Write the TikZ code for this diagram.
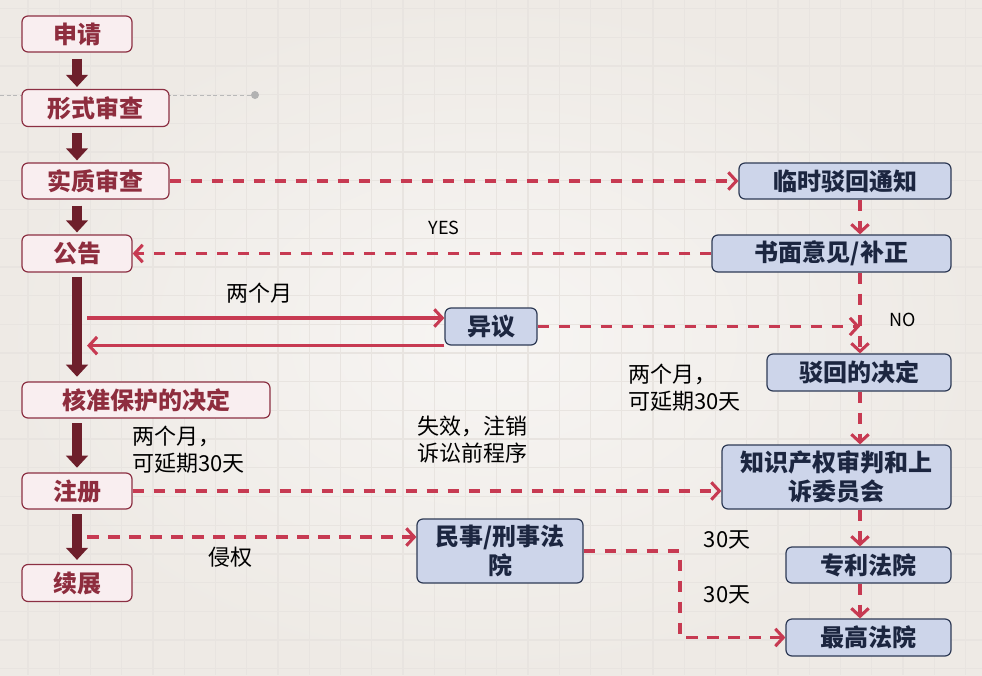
\documentclass[tikz,border=0pt]{standalone}
\usepackage{fontspec}
\setmainfont{Noto Sans CJK SC}
\usetikzlibrary{arrows.meta,calc}
\definecolor{bgin}{HTML}{F7F5F3}
\definecolor{bgout}{HTML}{EEEAE5}
\definecolor{gridc}{HTML}{E8E4E0}
\definecolor{lfill}{HTML}{F9EEF0}
\definecolor{lborder}{HTML}{8C3043}
\definecolor{ltext}{HTML}{8E2D3E}
\definecolor{fatc}{HTML}{6E1F2B}
\definecolor{redc}{HTML}{C73A52}
\definecolor{rfill}{HTML}{CDD5EA}
\definecolor{rborder}{HTML}{2E3A55}
\definecolor{rtext}{HTML}{1C2640}
\begin{document}
\begin{tikzpicture}[x=0.75pt,y=-0.75pt,
  lbox/.style={draw=lborder, fill=lfill, line width=0.9pt, rounded corners=4.5pt, text=ltext,
    font=\fontsize{18}{21.5}\selectfont\bfseries, inner sep=0pt, align=center},
  rbox/.style={draw=rborder, fill=rfill, line width=0.9pt, rounded corners=4.5pt, text=rtext,
    font=\fontsize{18}{21.5}\selectfont\bfseries, inner sep=0pt, align=center},
  fat/.style={draw=fatc, line width=7.5pt, -{Triangle[width=16pt,length=9pt]}},
  dashc/.style={draw=redc, line width=2.3pt, dash pattern=on 8.75pt off 7pt,
    -{Straight Barb[length=6pt,width=13pt]}},
  solidc/.style={draw=redc, line width=2.3pt, -{Straight Barb[length=6pt,width=13pt]}},
  lab/.style={font=\fontsize{16.5}{20}\selectfont, align=left, inner sep=0pt, text=black},
  latin/.style={font=\fontsize{13.5}{16}\selectfont, inner sep=0pt, text=black}
]
\useasboundingbox (0,0) rectangle (982,675);
% background
\shade[inner color=bgin, outer color=bgout] (0,0) rectangle (982,675);
\foreach \gx in {28,59.25,...,982} \draw[gridc, line width=1pt] (\gx,0) -- (\gx,675);
\foreach \gy in {8.6,37.3,...,675} \draw[gridc, line width=1pt] (0,\gy) -- (982,\gy);
% stray guide line
\coordinate (g0) at (0,95);
\coordinate (g1) at (255,95);
\draw[gray!55, line width=0.6pt, dash pattern=on 3pt off 2pt] (g0) -- (g1);
\fill[gray!60] (g1) circle (3pt);

% left column
\node[lbox, minimum width=82.5pt, minimum height=27pt] (sq) at (77,34) {申请};
\node[lbox, minimum width=110.25pt, minimum height=27.75pt] (xs) at (95.5,108) {形式审查};
\node[lbox, minimum width=110.25pt, minimum height=27pt] (sz) at (95.5,181) {实质审查};
\node[lbox, minimum width=82.5pt, minimum height=27.75pt] (gg) at (77,253.5) {公告};
\node[lbox, minimum width=186pt, minimum height=27pt] (hz) at (146,400) {核准保护的决定};
\node[lbox, minimum width=82.5pt, minimum height=27pt] (zc) at (77,491) {注册};
\node[lbox, minimum width=82.5pt, minimum height=27.75pt] (xz) at (77,583) {续展};

% right side
\node[rbox, minimum width=159pt, minimum height=27pt] (ls) at (845,181) {临时驳回通知};
\node[rbox, minimum width=179.25pt, minimum height=27.75pt] (sm) at (831.5,253.5) {书面意见/补正};
\node[rbox, minimum width=138pt, minimum height=27.75pt] (bh) at (859,372.5) {驳回的决定};
\node[rbox, minimum width=69pt, minimum height=27.75pt] (yy) at (491,326.5) {异议};
\node[rbox, minimum width=171.75pt, minimum height=48pt] (zs) at (836.5,477) {知识产权审判和上\\诉委员会};
\node[rbox, minimum width=123.75pt, minimum height=27pt] (zl) at (868.5,565) {专利法院};
\node[rbox, minimum width=123.75pt, minimum height=27.75pt] (zg) at (868.5,637.5) {最高法院};
\node[rbox, minimum width=124.5pt, minimum height=48pt] (ms) at (500,551) {民事/刑事法\\院};

% helper coordinates
\coordinate (lx) at (77,0);
\coordinate (vx) at (860,0);
\coordinate (cx) at (680,0);
\coordinate (o1) at (87,318);
\coordinate (o2) at (87,537);

% fat arrows
\draw[fat, shorten <=4.5pt, shorten >=1.5pt] (sq.south) -- (lx |- xs.north);
\draw[fat, shorten <=4.5pt, shorten >=1.5pt] (lx |- xs.south) -- (lx |- sz.north);
\draw[fat, shorten <=4.5pt, shorten >=1.5pt] (lx |- sz.south) -- (lx |- gg.north);
\draw[fat, shorten <=3pt, shorten >=3.5pt] (gg.south) -- (lx |- hz.north);
\draw[fat, shorten <=3.5pt, shorten >=3.5pt] (lx |- hz.south) -- (zc.north);
\draw[fat, shorten <=3.5pt, shorten >=3pt] (zc.south) -- (xz.north);

% connectors
\draw[dashc] (sz.east) -- (ls.west);
\draw[dashc] (ls.south -| vx) -- (sm.north -| vx);
\draw[dashc] (sm.west) -- (gg.east);
\draw[dashc] (sm.south -| vx) -- (bh.north -| vx);
\draw[dashc] (yy.east) -- (yy.east -| vx);
\draw[solidc] (o1) -- (o1 -| yy.west);
\draw[solidc] (yy.south west) -- (yy.south west -| o1);
\draw[dashc] (bh.south -| vx) -- (zs.north -| vx);
\draw[dashc] (zc.east) -- (zc.east -| zs.west);
\draw[dashc] (o2) -- (o2 -| ms.west);
\draw[dashc] (zs.south -| vx) -- (zl.north -| vx);
\draw[dashc] (zl.south -| vx) -- (zg.north -| vx);
\draw[dashc] (ms.east) -- (ms.east -| cx) -- (cx |- zg.west) -- (zg.west);

% labels
\node[latin] (yes) at (444,228) {YES};
\node[latin] (no) at (903,320) {NO};
\node[lab] (t1) at (259,293) {两个月};
\node[lab, anchor=north west] (t2) at (132,426) {两个月，\\可延期30天};
\node[lab, anchor=north west] (t3) at (628,364) {两个月，\\可延期30天};
\node[lab, anchor=north west] (t4) at (417,416) {失效，注销\\诉讼前程序};
\node[lab] (t5) at (230,557) {侵权};
\node[lab] (t6) at (727,540) {30天};
\node[lab] (t7) at (727,595) {30天};
\end{tikzpicture}
\end{document}
